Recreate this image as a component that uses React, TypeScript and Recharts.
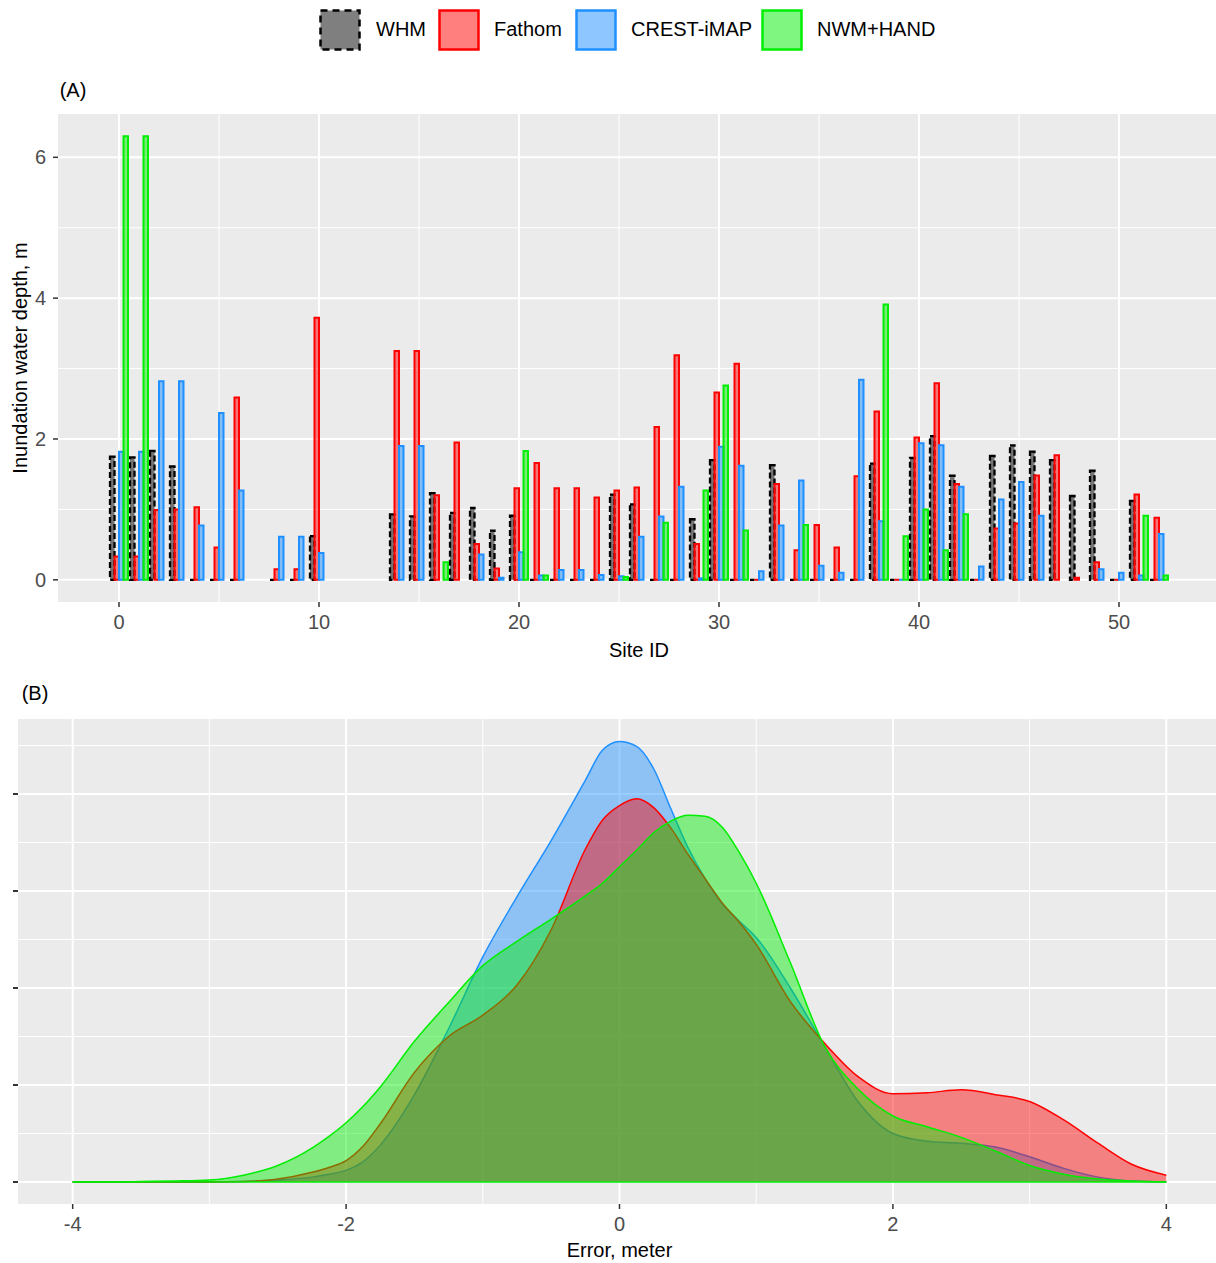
import React from "react";
import { Area, AreaChart, Bar, BarChart, CartesianGrid, ReferenceLine, XAxis, YAxis } from "recharts";

// ---- panel A: water depth per site (null = no bar drawn) ----
const sites = [0, 1, 2, 3, 4, 5, 6, 8, 9, 10, 14, 15, 16, 17, 18, 19, 20, 21, 22, 23, 24, 25, 26, 27, 28, 29, 30, 31, 32, 33, 34, 35, 36, 37, 38, 39, 40, 41, 42, 43, 44, 45, 46, 47, 48, 49, 50, 51, 52];
const whm = [1.75, 1.74, 1.83, 1.61, 0, 0, 0, 0, 0, 0.62, 0.93, 0.9, 1.23, 0.95, 1.02, 0.7, 0.91, 0, 0, 0, 0, 1.21, 1.07, 0, 0, 0.86, 1.7, 0, 0, 1.63, 0, 0, 0, 0, 1.65, 0, 1.73, 2.04, 1.48, 0, 1.76, 1.91, 1.82, 1.7, 1.19, 1.55, 0, 1.12, 0];
const fathom = [0.33, 0.33, 0.99, 1.0, 1.03, 0.46, 2.59, 0.15, 0.15, 3.72, 3.25, 3.25, 1.2, 1.95, 0.51, 0.16, 1.3, 1.66, 1.3, 1.3, 1.17, 1.27, 1.31, 2.17, 3.19, 0.51, 2.66, 3.07, 0, 1.36, 0.42, 0.78, 0.46, 1.47, 2.39, 0, 2.02, 2.79, 1.36, 0, 0.73, 0.8, 1.48, 1.77, 0.03, 0.25, 0, 1.21, 0.88];
const crest = [1.82, 1.82, 2.82, 2.82, 0.77, 2.37, 1.27, 0.61, 0.61, 0.38, 1.9, 1.9, null, null, 0.36, 0.03, 0.39, 0.06, 0.14, 0.14, 0.07, 0.05, 0.61, 0.9, 1.32, 0.02, 1.89, 1.62, 0.12, 0.77, 1.41, 0.2, 0.1, 2.84, 0.83, 0, 1.94, 1.91, 1.32, 0.19, 1.14, 1.39, 0.91, null, null, 0.15, 0.1, 0.06, 0.65];
const nwm = [6.3, 6.3, null, null, null, null, null, null, null, null, null, null, 0.25, null, null, null, 1.83, 0.06, null, null, null, 0.04, null, 0.81, null, 1.27, 2.76, 0.7, null, null, 0.78, null, null, null, 3.91, 0.62, 1.0, 0.42, 0.93, null, null, null, null, null, null, null, null, 0.91, 0.06];

const siteTicks = [0, 10, 20, 30, 40, 50];
const siteMinor = [5, 15, 25, 35, 45];
const depthTicks = [0, 2, 4, 6];
const depthMinor = [1, 3, 5];

// ---- panel B: error densities ----
const errX = [-4, -3.75, -3.5, -3.25, -3, -2.75, -2.5, -2.25, -2.125, -2, -1.875, -1.75, -1.5, -1.25, -1, -0.75, -0.5, -0.25, -0.125, 0, 0.125, 0.25, 0.375, 0.5, 0.625, 0.75, 0.875, 1, 1.25, 1.5, 1.75, 2, 2.25, 2.5, 2.75, 3, 3.25, 3.5, 3.75, 4];
const crestDens = [0, 0, 0, 0, 0, 0.0005, 0.002, 0.005, 0.008, 0.012, 0.021, 0.038, 0.09, 0.158, 0.232, 0.294, 0.352, 0.414, 0.445, 0.454, 0.449, 0.426, 0.385, 0.345, 0.313, 0.287, 0.269, 0.252, 0.2, 0.14, 0.082, 0.05, 0.042, 0.04, 0.036, 0.026, 0.014, 0.005, 0.001, 0];
const fathomDens = [0, 0, 0, 0, 0, 0.0005, 0.003, 0.01, 0.015, 0.022, 0.037, 0.06, 0.113, 0.15, 0.172, 0.203, 0.26, 0.343, 0.373, 0.388, 0.395, 0.386, 0.365, 0.338, 0.313, 0.288, 0.268, 0.245, 0.186, 0.143, 0.108, 0.091, 0.092, 0.095, 0.09, 0.083, 0.064, 0.04, 0.018, 0.007];
const nwmDens = [0, 0, 0.0005, 0.001, 0.002, 0.007, 0.017, 0.035, 0.047, 0.061, 0.078, 0.098, 0.145, 0.185, 0.223, 0.248, 0.271, 0.295, 0.308, 0.325, 0.342, 0.36, 0.372, 0.378, 0.377, 0.366, 0.34, 0.308, 0.226, 0.14, 0.095, 0.068, 0.057, 0.046, 0.032, 0.017, 0.008, 0.003, 0.001, 0];

const errTicks = [-4, -2, 0, 2, 4];
const errMinor = [-3, -1, 1, 3];
const densTicks = [0, 0.1, 0.2, 0.3, 0.4];
const densMinor = [0.05, 0.15, 0.25, 0.35, 0.45];

const RED = "#FF0000";
const BLUE = "#1E90FF";
const GREEN = "#00EE00";
const FONT = "'Liberation Sans', Arial, sans-serif";

const barData = sites.map((site, i) => ({ site, whm: whm[i], fathom: fathom[i], crest: crest[i], nwm: nwm[i] }));
const densData = errX.map((x, i) => ({ x, crest: crestDens[i], fathom: fathomDens[i], nwm: nwmDens[i] }));

// bar drawn as path so that zero values still show a flat outline
const outlinedBar = (key: string, stroke: string, fill: string, dash?: string, sw = 2) => (props: any) => {
    const { x, y, width, height, payload } = props;
    if (payload == null || payload[key] == null || x == null || y == null) return null;
    return (
        <path
            d={`M${x},${y}h${width}v${height || 0}h${-width}Z`}
            fill={fill}
            fillOpacity={0.5}
            stroke={stroke}
            strokeWidth={sw}
            strokeDasharray={dash}
        />
    );
};

const tickStyle = { fill: "#4D4D4D", fontSize: 20, fontFamily: FONT };

function Text({ x, y, children, rotate = false, size = 20 }: { x: number; y: number; children: React.ReactNode; rotate?: boolean; size?: number }) {
    return (
        <div
            style={{
                position: "absolute",
                left: x,
                top: y,
                transform: `translate(-50%, -50%)${rotate ? " rotate(-90deg)" : ""}`,
                whiteSpace: "nowrap",
                fontSize: size,
                color: "#000",
                fontFamily: FONT,
            }}
        >
            {children}
        </div>
    );
}

function LegendKey({ x, stroke, fill, dash, label, labelX }: { x: number; stroke: string; fill: string; dash?: string; label: string; labelX: number }) {
    return (
        <>
            <svg style={{ position: "absolute", left: x, top: 9 }} width={42} height={42}>
                <rect x={1.5} y={1.5} width={39} height={39} fill={fill} fillOpacity={0.5} stroke={stroke} strokeWidth={2.5} strokeDasharray={dash} />
            </svg>
            <div style={{ position: "absolute", left: labelX, top: 18, fontSize: 20, fontFamily: FONT, color: "#000", whiteSpace: "nowrap" }}>{label}</div>
        </>
    );
}

export default function App() {
    return (
        <div style={{ position: "relative", width: 1216, height: 1263, overflow: "hidden", background: "#fff", fontFamily: FONT }}>
            <style>{`body{margin:0}`}</style>

            <LegendKey x={319} stroke="#000" fill="#000" dash="7 5" label="WHM" labelX={376} />
            <LegendKey x={438} stroke={RED} fill={RED} label="Fathom" labelX={494} />
            <LegendKey x={575} stroke={BLUE} fill={BLUE} label="CREST-iMAP" labelX={631} />
            <LegendKey x={761} stroke={GREEN} fill={GREEN} label="NWM+HAND" labelX={817} />

            <Text x={73} y={90}>(A)</Text>
            <Text x={20} y={358} rotate>Inundation water depth, m</Text>
            <Text x={639} y={650}>Site ID</Text>

            <div style={{ position: "absolute", left: 0, top: 0 }}>
                <BarChart width={1240} height={680} data={barData} margin={{ top: 114, right: 19, bottom: 48, left: 0 }} barGap={0}>
                    <CartesianGrid fill="#EBEBEB" stroke="#FFFFFF" strokeWidth={2} horizontalValues={depthTicks} verticalValues={siteTicks} />
                    <CartesianGrid stroke="#FFFFFF" strokeWidth={1} horizontalValues={depthMinor} verticalValues={siteMinor} />
                    <XAxis
                        type="number"
                        dataKey="site"
                        domain={[-3.05, 55.1]}
                        allowDataOverflow
                        ticks={siteTicks}
                        axisLine={false}
                        tickLine={{ stroke: "#333333", strokeWidth: 1.5 }}
                        tickSize={5}
                        tickMargin={8}
                        tick={tickStyle}
                        height={30}
                    />
                    <YAxis
                        type="number"
                        domain={[-0.315, 6.615]}
                        allowDataOverflow
                        ticks={depthTicks}
                        axisLine={false}
                        tickLine={{ stroke: "#333333", strokeWidth: 1.5 }}
                        tickSize={5}
                        tickMargin={7}
                        tick={tickStyle}
                        width={58}
                    />
                    <Bar dataKey="whm" barSize={4.5} isAnimationActive={false} shape={outlinedBar("whm", "#000000", "#000000", "6 3", 2.3)} />
                    <Bar dataKey="fathom" barSize={4.5} isAnimationActive={false} shape={outlinedBar("fathom", RED, RED)} />
                    <Bar dataKey="crest" barSize={4.5} isAnimationActive={false} shape={outlinedBar("crest", BLUE, BLUE)} />
                    <Bar dataKey="nwm" barSize={4.5} isAnimationActive={false} shape={outlinedBar("nwm", GREEN, GREEN)} />
                </BarChart>
            </div>

            <Text x={35} y={693}>(B)</Text>
            <Text x={619.5} y={1250}>Error, meter</Text>

            <div style={{ position: "absolute", left: 0, top: 700 }}>
                <AreaChart width={1240} height={563} data={densData} margin={{ top: 19, right: 19, bottom: 29, left: 0 }}>
                    <CartesianGrid fill="#EBEBEB" stroke="#FFFFFF" strokeWidth={2} horizontalValues={densTicks} verticalValues={errTicks} />
                    <CartesianGrid stroke="#FFFFFF" strokeWidth={1} horizontalValues={densMinor} verticalValues={errMinor} />
                    <XAxis
                        type="number"
                        dataKey="x"
                        domain={[-4.4, 4.4]}
                        allowDataOverflow
                        ticks={errTicks}
                        axisLine={false}
                        tickLine={{ stroke: "#333333", strokeWidth: 1.5 }}
                        tickSize={5}
                        tickMargin={8}
                        tick={tickStyle}
                        height={30}
                    />
                    <YAxis
                        type="number"
                        domain={[-0.0227, 0.4773]}
                        allowDataOverflow
                        ticks={densTicks}
                        axisLine={false}
                        tickLine={{ stroke: "#333333", strokeWidth: 2 }}
                        tickSize={5}
                        tick={tickStyle}
                        tickFormatter={() => ""}
                        width={18}
                    />
                    <Area type="monotone" dataKey="crest" stroke={BLUE} strokeWidth={1.5} fill={BLUE} fillOpacity={0.45} dot={false} activeDot={false} isAnimationActive={false} />
                    <Area type="monotone" dataKey="fathom" stroke={RED} strokeWidth={1.5} fill={RED} fillOpacity={0.45} dot={false} activeDot={false} isAnimationActive={false} />
                    <Area type="monotone" dataKey="nwm" stroke={GREEN} strokeWidth={1.5} fill={GREEN} fillOpacity={0.45} dot={false} activeDot={false} isAnimationActive={false} />
                    <ReferenceLine segment={[{ x: -4, y: 0 }, { x: 4, y: 0 }]} stroke={GREEN} strokeWidth={1.5} />
                </AreaChart>
            </div>
        </div>
    );
}
